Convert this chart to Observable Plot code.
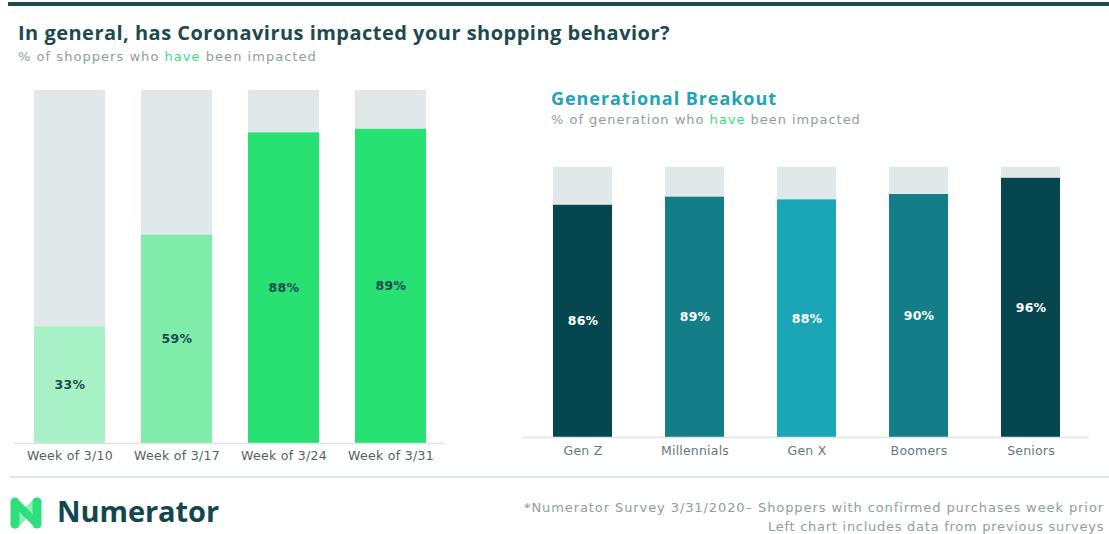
<!DOCTYPE html>
<html><head><meta charset="utf-8">
<script src="https://cdn.jsdelivr.net/npm/d3@7"></script>
<script src="https://cdn.jsdelivr.net/npm/@observablehq/plot@0.6"></script>
<style>
html,body{margin:0;padding:0;}
body{width:1109px;height:534px;overflow:hidden;position:relative;background:#fff;font-family:"DejaVu Sans",sans-serif;}
.abs{position:absolute;white-space:nowrap;line-height:1.2;}
.ttl{font-family:"Open Sans","Noto Sans",sans-serif;font-weight:700;}
.sub{font-family:"DejaVu Sans",sans-serif;font-size:13px;color:#8e9ea0;}
</style></head><body>
<div class="abs" style="left:8px;top:2px;width:1101px;height:4px;background:#1d4a50"></div>
<div class="abs ttl" data-w="652" style="left:18px;top:21px;font-size:20px;color:#1d4a50">In general, has Coronavirus impacted your shopping behavior?</div>
<div class="abs sub" data-w="299" style="left:18px;top:49px">% of shoppers who <span style="color:#3ddc84">have</span> been impacted</div>
<div class="abs ttl" data-w="226" style="left:551px;top:88px;font-size:18px;color:#22a3b5">Generational Breakout</div>
<div class="abs sub" data-w="310" style="left:551px;top:112px">% of generation who <span style="color:#3ddc84">have</span> been impacted</div>
<div class="abs" id="left" style="left:0px;top:80px"></div>
<div class="abs" id="right" style="left:500px;top:150px"></div>
<div class="abs" style="left:10px;top:476px;width:1099px;height:2px;background:#dde6e8"></div>
<svg class="abs" style="left:9px;top:496px" width="34" height="34" viewBox="0 0 34 34">
  <path d="M6 28 L28 6" stroke="#8ef0b8" stroke-width="9" stroke-linecap="round"/>
  <path d="M6 6 L6 28" stroke="#2ee07c" stroke-width="9" stroke-linecap="round"/>
  <path d="M28 6 L28 28" stroke="#2ee07c" stroke-width="9" stroke-linecap="round"/>
  <path d="M7 7 L27 27" stroke="#2ee07c" stroke-width="8" stroke-linecap="round"/>
</svg>
<div class="abs ttl" data-w="162" style="left:57px;top:494px;font-size:29px;color:#13474f">Numerator</div>
<div class="abs sub" data-w="580" style="left:524px;top:500px">*Numerator Survey 3/31/2020– Shoppers with confirmed purchases week prior</div>
<div class="abs sub" data-w="336" style="left:768px;top:519px">Left chart includes data from previous surveys</div>
<script>
const weeks = ["Week of 3/10","Week of 3/17","Week of 3/24","Week of 3/31"];
const weekValues = [33,59,88,89];
const weekColors = ["#a8f0c5","#7fecaa","#27e272","#27e272"];
const generations = ["Gen Z","Millennials","Gen X","Boomers","Seniors"];
const genValues = [86,89,88,90,96];
const genColors = ["#06474f","#137d88","#1aa6b7","#137d88","#06474f"];

const weekData = weeks.map((w,i)=>({cat:w, value:weekValues[i], color:weekColors[i]}));
const genData = generations.map((g,i)=>({cat:g, value:genValues[i], color:genColors[i]}));
const font = '"DejaVu Sans", sans-serif';

const left = Plot.plot({
  width: 460, height: 400, marginLeft: 14, marginRight: 15, marginTop: 10, marginBottom: 37,
  x: {domain: weeks, paddingInner: 0.34, paddingOuter: 0.167, label: null, tickSize: 0, tickPadding: 8},
  y: {domain: [0,100], axis: null},
  color: {type: "identity"},
  style: {fontFamily: font, fontSize: "12.5px", color: "#4f6366", background: "transparent", letterSpacing: "0.3px"},
  marks: [
    Plot.barY(weekData, {x: "cat", y: () => 100, fill: "#e0e8ea"}),
    Plot.barY(weekData, {x: "cat", y: "value", fill: d => d.color}),
    Plot.ruleY([0], {stroke: "#dde5e7", strokeWidth: 1.5}),
    Plot.text(weekData, {x: "cat", y: d => d.value/2, text: d => d.value + "%", fill: "#1d4a50", fontWeight: "bold", fontSize: 12.5})
  ]
});
document.getElementById("left").appendChild(left);

const right = Plot.plot({
  width: 609, height: 320, marginLeft: 23, marginRight: 20, marginTop: 17, marginBottom: 33,
  x: {domain: generations, paddingInner: 0.476, paddingOuter: 0.25, label: null, tickSize: 0, tickPadding: 9},
  y: {domain: [0,100], axis: null},
  color: {type: "identity"},
  style: {fontFamily: font, fontSize: "12.5px", color: "#66787b", background: "transparent", letterSpacing: "0.2px"},
  marks: [
    Plot.barY(genData, {x: "cat", y: () => 100, fill: "#e0e8ea"}),
    Plot.barY(genData, {x: "cat", y: "value", fill: d => d.color}),
    Plot.ruleY([0], {stroke: "#dde5e7", strokeWidth: 1.5}),
    Plot.text(genData, {x: "cat", y: d => d.value/2, text: d => d.value + "%", fill: "white", fontWeight: "bold", fontSize: 12.5})
  ]
});
document.getElementById("right").appendChild(right);

// fit text widths to the reference by letter spacing
document.querySelectorAll("[data-w]").forEach(el => {
  const target = +el.dataset.w;
  const n = el.textContent.length;
  const w = el.getBoundingClientRect().width;
  el.style.letterSpacing = ((target - w) / n).toFixed(2) + "px";
});
</script>
</body></html>
